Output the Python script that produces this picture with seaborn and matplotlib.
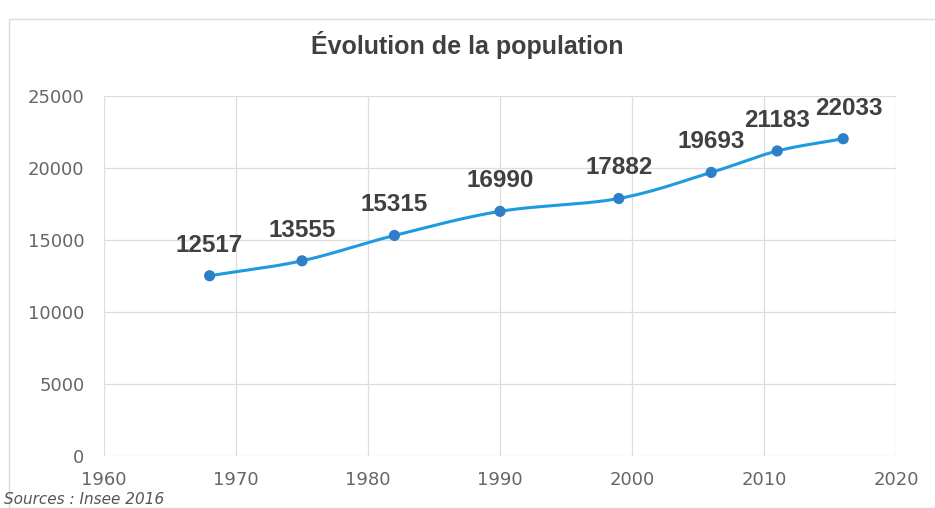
import numpy as np
import pandas as pd
import matplotlib
matplotlib.use("Agg")
import matplotlib.pyplot as plt
import seaborn as sns
from matplotlib.patches import Rectangle

years = [1968, 1975, 1982, 1990, 1999, 2006, 2011, 2016]
population = [12517, 13555, 15315, 16990, 17882, 19693, 21183, 22033]
x_ticks = [1960, 1970, 1980, 1990, 2000, 2010, 2020]
y_ticks = [0, 5000, 10000, 15000, 20000, 25000]
title = "Évolution de la population"
source = "Sources : Insee 2016"

df = pd.DataFrame({"annee": years, "population": population})

sns.set_theme(style="white")
plt.rcParams["font.family"] = ["Liberation Sans", "DejaVu Sans"]

fig = plt.figure(figsize=(9.35, 5.08), dpi=100)
ax = fig.add_axes([104 / 935, 1 - 456 / 508, (896 - 104) / 935, (456 - 96) / 508])

# frame around chart
fig.patches.append(Rectangle((9 / 935, 0), 1, 1 - 19 / 508, transform=fig.transFigure,
                             fill=False, edgecolor="#dcdcdc", linewidth=1.0))

# smooth curve (Catmull-Rom through the data points)
def catmull_rom(xs, ys, n=40):
    xs = np.asarray(xs, float); ys = np.asarray(ys, float)
    px = np.concatenate([[2 * xs[0] - xs[1]], xs, [2 * xs[-1] - xs[-2]]])
    py = np.concatenate([[2 * ys[0] - ys[1]], ys, [2 * ys[-1] - ys[-2]]])
    outx, outy = [], []
    for i in range(1, len(px) - 2):
        t = np.linspace(0, 1, n)
        for arr, out in ((px, outx), (py, outy)):
            p0, p1, p2, p3 = arr[i - 1], arr[i], arr[i + 1], arr[i + 2]
            out.extend(0.5 * ((2 * p1) + (-p0 + p2) * t + (2 * p0 - 5 * p1 + 4 * p2 - p3) * t ** 2
                              + (-p0 + 3 * p1 - 3 * p2 + p3) * t ** 3))
    return np.array(outx), np.array(outy)

cx, cy = catmull_rom(df["annee"], df["population"])
ax.plot(cx, cy, color="#1e9ae0", linewidth=2.2, zorder=3)
sns.scatterplot(data=df, x="annee", y="population", ax=ax, color="#2f7fc8", s=65,
                edgecolor="none", zorder=4, legend=False)

offsets = {2016: (4, 0)}
for xv, yv in zip(years, population):
    dx, dy = offsets.get(xv, (0, 0))
    ax.annotate(f"{yv}", (xv, yv), xytext=(dx, 22 + dy), textcoords="offset points",
                ha="center", va="center", fontsize=17.5, fontweight="bold", color="#404040",
                zorder=5)

ax.set_xlim(1960, 2020)
ax.set_ylim(0, 25000)
ax.set_xticks(x_ticks)
ax.set_yticks(y_ticks)
ax.set_xticklabels([str(v) for v in x_ticks], family="DejaVu Sans")
ax.set_yticklabels([str(v) for v in y_ticks], family="DejaVu Sans")
ax.tick_params(axis="x", colors="#666666", labelsize=13, length=0, pad=11)
ax.tick_params(axis="y", colors="#666666", labelsize=13, length=0, pad=14)
ax.grid(True, color="#dddddd", linewidth=0.9)
for s in ax.spines.values():
    s.set_visible(False)
ax.set_xlabel("")
ax.set_ylabel("")

fig.text(0.5, 1 - 45 / 508, title, ha="center", va="center", fontsize=18,
         fontweight="bold", color="#404040")
fig.text(4 / 935, 1 - 500 / 508, source, ha="left", va="center", fontsize=11,
         style="italic", color="#555555", family="DejaVu Sans")

fig.savefig("out.png", dpi=100)
